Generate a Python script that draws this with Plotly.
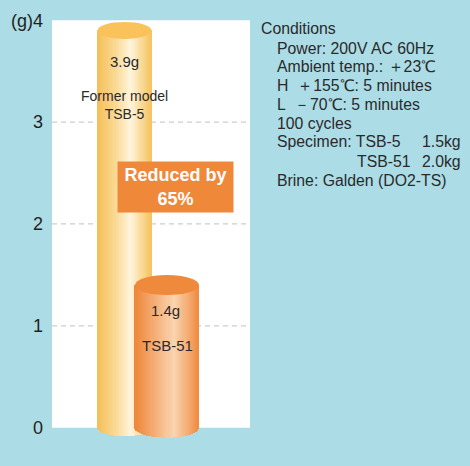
import plotly.graph_objects as go

# ---------------- data ----------------
models = ["Former model<br>TSB-5", "TSB-51"]
weights_g = [3.9, 1.4]
value_labels = ["3.9g", "1.4g"]
y_tick_vals = [0, 1, 2, 3, 4]
y_tick_text = ["0", "1", "2", "3", "(g)4"]
grid_vals = [1, 2, 3]
reduction_text = "Reduced by<br>65%"
cond_title = "Conditions"
cond_lines = [
    "Power: 200V AC 60Hz",
    "Ambient temp.: ＋23℃",
    "H  ＋155℃: 5 minutes",
    "L  －70℃: 5 minutes",
    "100 cycles",
]
specimen_names = ["Specimen: TSB-5", "TSB-51"]
specimen_weights = ["1.5kg", "2.0kg"]
brine_line = "Brine: Galden (DO2-TS)"

# ---------------- layout constants ----------------
W, H = 470, 466
ML, MR, MT, MB = 52, 220, 5, 18
PW = W - ML - MR          # 198
PH = H - MT - MB          # 443
XR = [0, 10]
YR = [-0.2, 4.15]

def px_to_x(px):
    return XR[0] + (px - ML) / PW * (XR[1] - XR[0])

def py_to_y(py):
    return YR[0] + (H - MB - py) / PH * (YR[1] - YR[0])

def px_to_paper(px):
    return (px - ML) / PW

def py_to_paper(py):
    return (H - MB - py) / PH

# cylinder geometry (centre px, half-width px, ellipse semi-height px)
cyl_geom = [(124.5, 27.0, 8.5), (167.0, 32.0, 10.0)]
cyl_stops = [
    [(0.0, (245, 190, 86)), (0.35, (250, 218, 150)), (0.62, (255, 245, 220)), (1.0, (246, 195, 96))],
    [(0.0, (238, 134, 56)), (0.35, (245, 178, 125)), (0.62, (250, 213, 176)), (1.0, (240, 140, 66))],
]
cyl_top = ["#f9c25a", "#ef893c"]

def interp(stops, u):
    for (u0, c0), (u1, c1) in zip(stops[:-1], stops[1:]):
        if u0 <= u <= u1:
            t = (u - u0) / (u1 - u0)
            c = [round(a + (b - a) * t) for a, b in zip(c0, c1)]
            return f"rgb({c[0]},{c[1]},{c[2]})"
    c = stops[-1][1]
    return f"rgb({c[0]},{c[1]},{c[2]})"

px_per_y = PH / (YR[1] - YR[0])
px_per_x = PW / (XR[1] - XR[0])

fig = go.Figure()
shapes = []

# white plotting panel + dashed grid
shapes.append(dict(type="rect", xref="paper", yref="y", x0=0, x1=1, y0=0, y1=4,
                   fillcolor="white", line=dict(width=0), layer="below"))
for g in grid_vals:
    shapes.append(dict(type="line", xref="paper", yref="y", x0=0, x1=1, y0=g, y1=g,
                       line=dict(color="#cdcdcd", width=1.3, dash="5px,4px"), layer="below"))

N = 60
for k, v in enumerate(weights_g):
    cpx, hwpx, epx = cyl_geom[k]
    c = px_to_x(cpx)
    hw = hwpx / px_per_x
    e = epx / px_per_y
    w = 2 * hw / N
    xs, bases, heights, cols = [], [], [], []
    for i in range(N):
        u = (i + 0.5) / N
        s = 2 * u - 1
        b = -e * (max(0.0, 1 - s * s)) ** 0.5
        xs.append(c - hw + (i + 0.5) * w)
        bases.append(b)
        heights.append(v - b)
        cols.append(interp(cyl_stops[k], u))
    fig.add_trace(go.Bar(x=xs, y=heights, base=bases, width=[w * 1.15] * N,
                         marker=dict(color=cols, line=dict(width=0)),
                         hoverinfo="skip", showlegend=False))
    shapes.append(dict(type="circle", xref="x", yref="y",
                       x0=c - hw, x1=c + hw, y0=v - e, y1=v + e,
                       fillcolor=cyl_top[k], line=dict(width=0), layer="above"))

annotations = []
TXT = "#2a2a2a"
FONT = "Liberation Sans, Arial, Helvetica, sans-serif"

# value and model labels
annotations.append(dict(x=px_to_x(124), y=py_to_y(61), xref="x", yref="y", text=value_labels[0],
                        showarrow=False, font=dict(size=15, color=TXT)))
annotations.append(dict(x=px_to_x(124), y=py_to_y(104.5), xref="x", yref="y", text=models[0],
                        showarrow=False, font=dict(size=14, color=TXT)))
annotations.append(dict(x=px_to_x(165), y=py_to_y(310), xref="x", yref="y", text=value_labels[1],
                        showarrow=False, font=dict(size=15, color=TXT)))
annotations.append(dict(x=px_to_x(167), y=py_to_y(345), xref="x", yref="y", text=models[1],
                        showarrow=False, font=dict(size=15, color=TXT)))

# reduction box
annotations.append(dict(x=px_to_x(175.5), y=py_to_y(187), xref="x", yref="y",
                        text="<b>" + reduction_text + "</b>", showarrow=False,
                        font=dict(size=18, color="white"), bgcolor="#f0883a",
                        width=115, height=50, borderpad=0, align="center", valign="middle"))

# conditions block
def cond(text, px, py):
    annotations.append(dict(x=px_to_paper(px), y=py_to_paper(py), xref="paper", yref="paper",
                            text=text, showarrow=False, xanchor="left", yanchor="middle",
                            font=dict(size=15.8, color=TXT)))

cond(cond_title, 259, 29)
yy = 48
for line in cond_lines:
    cond(line, 275, yy)
    yy += 18.9
cond(specimen_names[0], 275, 142)
cond(specimen_weights[0], 420, 142)
cond(specimen_names[1], 355, 161)
cond(specimen_weights[1], 420, 161)
cond(brine_line, 275, 180)

fig.update_layout(
    width=W, height=H,
    margin=dict(l=ML, r=MR, t=MT, b=MB, pad=0),
    paper_bgcolor="#acdce6", plot_bgcolor="#acdce6",
    barmode="overlay", bargap=0,
    shapes=shapes, annotations=annotations,
    font=dict(family=FONT, color=TXT),
    showlegend=False,
    xaxis=dict(range=XR, visible=False, fixedrange=True),
    yaxis=dict(range=YR, tickvals=y_tick_vals, ticktext=y_tick_text, showgrid=False,
               zeroline=False, showline=False, ticks="", ticklabelstandoff=8,
               tickfont=dict(size=18, color="#231f20"), fixedrange=True),
)

fig.write_html("out.html", config={"displayModeBar": False},
               post_script="document.body.style.margin='0px';document.body.style.background='#acdce6';document.body.style.overflow='hidden';")
